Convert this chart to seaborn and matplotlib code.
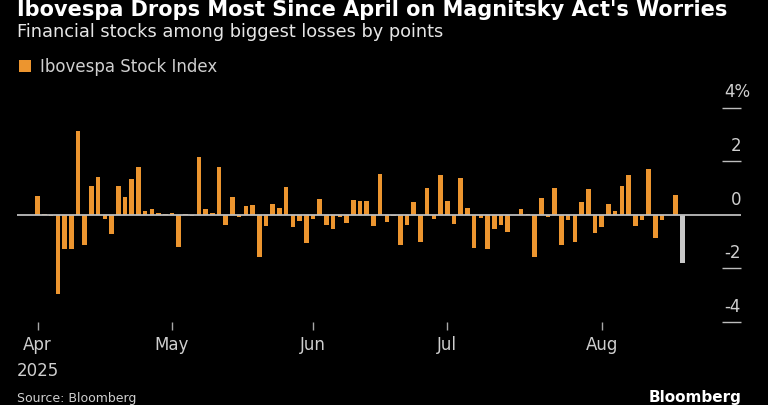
import matplotlib
matplotlib.use("Agg")
import matplotlib.pyplot as plt
from matplotlib.patches import Patch
import seaborn as sns
import pandas as pd
import numpy as np

# ---- data: daily % change of Ibovespa, per trading day ----
april = [0.70, 0.04, -0.04, -2.96, -1.29, -1.29, 3.13, -1.11, 1.07, 1.40,
         -0.14, -0.70, 1.06, 0.65, 1.35, 1.80, 0.14, 0.21, 0.07, 0.02]
may = [0.05, -1.20, 0.02, -0.06, 2.14, 0.21, 0.05, 1.78, -0.37, 0.67,
       -0.09, 0.34, 0.35, -1.58, -0.42, 0.42, 0.24, 1.03, -0.46, -0.24, -1.07]
june = [-0.15, 0.58, -0.39, -0.53, -0.07, -0.29, 0.56, 0.52, 0.52, -0.41,
        1.52, -0.27, -0.06, -1.14, -0.39, 0.47, -1.01, 1.01, -0.16, 1.48]
july = [0.52, -0.34, 1.37, 0.25, -1.23, -0.11, -1.29, -0.52, -0.39, -0.63,
        0.00, 0.21, 0.04, -1.59, 0.61, -0.07, 1.01, -1.14, -0.20, -1.03,
        0.47, 0.97, -0.67]
august = [-0.46, 0.42, 0.15, 1.06, 1.49, -0.43, -0.20, 1.70, -0.87, -0.21,
          0.01, 0.73, -1.78]
month_labels = ["Apr\n2025", "May", "Jun", "Jul", "Aug"]
y_ticks = [-4, -2, 0, 2, 4]
y_tick_labels = ["-4", "-2", "0", "2", "4%"]

months = [april, may, june, july, august]
values = [v for m in months for v in m]
n = len(values)
month_start = list(np.cumsum([0] + [len(m) for m in months[:-1]]))
kind = ["past"] * (n - 1) + ["latest"]
df = pd.DataFrame({"day": np.arange(n), "change": values, "kind": kind})

ORANGE = "#EC952F"
GRAY = "#C8C8C8"
TXT = "#CFCFCF"

sns.set_theme(style="dark")
plt.rcParams["font.family"] = ["DejaVu Sans"]

fig = plt.figure(figsize=(7.68, 4.05), dpi=100, facecolor="black")
ax = fig.add_axes([17 / 768, (405 - 322) / 405, (741 - 17) / 768, (322 - 96.9) / 405])
ax.set_facecolor("black")

sns.barplot(data=df, x="day", y="change", hue="kind",
            palette={"past": ORANGE, "latest": GRAY}, dodge=False,
            legend=False, errorbar=None, width=0.68, saturation=1,
            linewidth=0, ax=ax)

ax.axhline(0, color="#BDBDBD", lw=1.3, zorder=3)
ax.set_xlim(-3.08, 104.75)
ax.set_ylim(-4, 4.4)
for s in ax.spines.values():
    s.set_visible(False)
ax.grid(False)
ax.set_xlabel("")
ax.set_ylabel("")

ax.set_xticks(month_start)
ax.set_xticklabels(month_labels, fontsize=12, color=TXT)
for t in ax.get_xticklabels():
    t.set_linespacing(1.6)
ax.tick_params(axis="x", which="major", bottom=True, length=5.5, width=1,
               color="#A8A8A8", pad=4.5)

ax.yaxis.tick_right()
ax.set_yticks([t for t in y_ticks if t != 0])
ax.set_yticklabels([])
ax.tick_params(axis="y", which="major", right=True, direction="in",
               length=14, width=1, color="#BDBDBD", pad=0)
for v, lab in zip(y_ticks, y_tick_labels):
    dx = 7 if lab.endswith("%") else 0
    ax.annotate(lab, xy=(1, v), xycoords=("axes fraction", "data"),
                xytext=(dx, 4.5), textcoords="offset points",
                ha="right", va="bottom", fontsize=12, color=TXT)

fig.text(17 / 768, 1.0, "Ibovespa Drops Most Since April on Magnitsky Act's Worries",
         fontsize=15, fontweight="bold", color="white", va="top", ha="left")
fig.text(17 / 768, 1 - 37 / 405, "Financial stocks among biggest losses by points",
         fontsize=12.8, color="#E6E6E6", va="baseline", ha="left")

handle = Patch(facecolor=ORANGE, edgecolor="none", label="Ibovespa Stock Index")
leg = fig.legend(handles=[handle], loc="center left",
                 bbox_to_anchor=(12 / 768, 1 - 67 / 405), frameon=False,
                 handlelength=0.75, handleheight=0.75, handletextpad=0.5,
                 fontsize=12, borderaxespad=0)
for t in leg.get_texts():
    t.set_color(TXT)

fig.text(17 / 768, 0.0, "Source: Bloomberg", fontsize=9, color=TXT,
         va="bottom", ha="left")
fig.text(741 / 768, 0.0, "Bloomberg", fontsize=11, fontweight="bold",
         color="white", va="bottom", ha="right")

fig.savefig("out.png", dpi=100, facecolor="black")
